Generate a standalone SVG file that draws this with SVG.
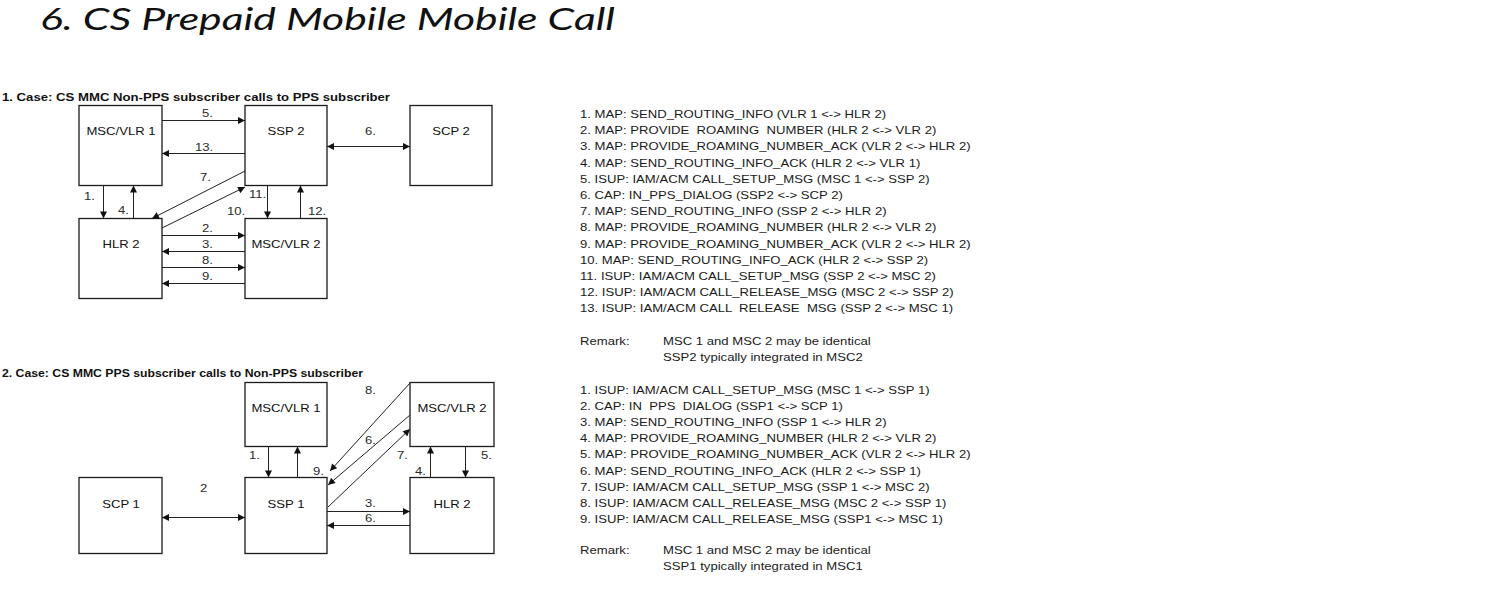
<svg xmlns="http://www.w3.org/2000/svg" width="1512" height="605" viewBox="0 0 1512 605">
  <style>
    .title { font-family: "Lato", "Open Sans", sans-serif; font-style: italic; font-weight: 400; font-size: 30px; fill: #111; }
    .head { font-family: "Liberation Sans", Arial, sans-serif; font-weight: bold; font-size: 11.5px; fill: #111; }
    .box { fill: #fff; stroke: #1a1a1a; stroke-width: 1.3; }
    .blabel { font-family: "Liberation Sans", Arial, sans-serif; font-size: 10.5px; fill: #111; text-anchor: middle; }
    .num { font-family: "Liberation Sans", Arial, sans-serif; font-size: 10.5px; fill: #2a2a2a; }
    .msg { font-family: "Liberation Sans", Arial, sans-serif; font-size: 10.5px; fill: #1a1a1a; }
    .conn { stroke: #222; stroke-width: 1; fill: none; marker-end: url(#ah); }
    .both { marker-start: url(#ah); }
  </style>
  <defs>
    <marker id="ah" viewBox="0 0 10 10" refX="10" refY="5" markerWidth="8" markerHeight="7" markerUnits="userSpaceOnUse" orient="auto-start-reverse">
      <path d="M0,0 L10,5 L0,10 Z" fill="#111"/>
    </marker>
  </defs>

  <rect width="1512" height="605" fill="#fff"/>

  <text class="title" x="40" y="30" textLength="575" lengthAdjust="spacingAndGlyphs">6. CS Prepaid Mobile Mobile Call</text>

  <!-- Case 1: Non-PPS subscriber calls PPS subscriber -->
  <text class="head" x="2" y="101" textLength="388" lengthAdjust="spacingAndGlyphs">1. Case: CS MMC Non-PPS subscriber calls to PPS subscriber</text>

  <g id="c1-msc1"><rect class="box" x="79" y="105.5" width="83" height="80"/><text class="blabel" transform="translate(121,135) scale(1.25,1)">MSC/VLR 1</text></g>
  <g id="c1-ssp2"><rect class="box" x="245" y="105.5" width="82" height="80"/><text class="blabel" transform="translate(286,135) scale(1.25,1)">SSP 2</text></g>
  <g id="c1-scp2"><rect class="box" x="410" y="105.5" width="82" height="80"/><text class="blabel" transform="translate(451,135) scale(1.25,1)">SCP 2</text></g>
  <g id="c1-hlr2"><rect class="box" x="79" y="218.5" width="83" height="80"/><text class="blabel" transform="translate(121,248) scale(1.25,1)">HLR 2</text></g>
  <g id="c1-msc2"><rect class="box" x="245" y="218.5" width="82" height="80"/><text class="blabel" transform="translate(286,248) scale(1.25,1)">MSC/VLR 2</text></g>

  <g id="c1-connectors">
    <path class="conn" d="M162,120.5 H245"/>
    <path class="conn" d="M245,153.5 H162"/>
    <path class="conn both" d="M327,146.5 H410"/>
    <path class="conn" d="M103.5,185.5 V218.5"/>
    <path class="conn" d="M133.5,218.5 V185.5"/>
    <path class="conn" d="M245,171 L152,218.5"/>
    <path class="conn" d="M162,228 L245,187"/>
    <path class="conn" d="M267.5,185.5 V218.5"/>
    <path class="conn" d="M300.5,218.5 V185.5"/>
    <path class="conn" d="M162,235.5 H245"/>
    <path class="conn" d="M245,251.5 H162"/>
    <path class="conn" d="M162,267.5 H245"/>
    <path class="conn" d="M245,283.5 H162"/>
  </g>
  <g id="c1-labels">
    <text class="num" transform="translate(202,117) scale(1.25,1)">5.</text>
    <text class="num" transform="translate(195,151) scale(1.25,1)">13.</text>
    <text class="num" transform="translate(365,135) scale(1.25,1)">6.</text>
    <text class="num" transform="translate(200,181) scale(1.25,1)">7.</text>
    <text class="num" transform="translate(249,198) scale(1.25,1)">11.</text>
    <text class="num" transform="translate(227,215) scale(1.25,1)">10.</text>
    <text class="num" transform="translate(308,215) scale(1.25,1)">12.</text>
    <text class="num" transform="translate(84,200) scale(1.25,1)">1.</text>
    <text class="num" transform="translate(118,214) scale(1.25,1)">4.</text>
    <text class="num" transform="translate(202,232) scale(1.25,1)">2.</text>
    <text class="num" transform="translate(202,248) scale(1.25,1)">3.</text>
    <text class="num" transform="translate(202,264) scale(1.25,1)">8.</text>
    <text class="num" transform="translate(202,280) scale(1.25,1)">9.</text>
  </g>

  <g id="c1-messages" class="msg">
    <text transform="translate(580,118) scale(1.25,1)">1. MAP: SEND_ROUTING_INFO (VLR 1 &lt;-&gt; HLR 2)</text>
    <text transform="translate(580,134.2) scale(1.25,1)">2. MAP: PROVIDE &#160;ROAMING &#160;NUMBER (HLR 2 &lt;-&gt; VLR 2)</text>
    <text transform="translate(580,150.4) scale(1.25,1)">3. MAP: PROVIDE_ROAMING_NUMBER_ACK (VLR 2 &lt;-&gt; HLR 2)</text>
    <text transform="translate(580,166.6) scale(1.25,1)">4. MAP: SEND_ROUTING_INFO_ACK (HLR 2 &lt;-&gt; VLR 1)</text>
    <text transform="translate(580,182.8) scale(1.25,1)">5. ISUP: IAM/ACM CALL_SETUP_MSG (MSC 1 &lt;-&gt; SSP 2)</text>
    <text transform="translate(580,199) scale(1.25,1)">6. CAP: IN_PPS_DIALOG (SSP2 &lt;-&gt; SCP 2)</text>
    <text transform="translate(580,215.2) scale(1.25,1)">7. MAP: SEND_ROUTING_INFO (SSP 2 &lt;-&gt; HLR 2)</text>
    <text transform="translate(580,231.4) scale(1.25,1)">8. MAP: PROVIDE_ROAMING_NUMBER (HLR 2 &lt;-&gt; VLR 2)</text>
    <text transform="translate(580,247.6) scale(1.25,1)">9. MAP: PROVIDE_ROAMING_NUMBER_ACK (VLR 2 &lt;-&gt; HLR 2)</text>
    <text transform="translate(580,263.8) scale(1.25,1)">10. MAP: SEND_ROUTING_INFO_ACK (HLR 2 &lt;-&gt; SSP 2)</text>
    <text transform="translate(580,280) scale(1.25,1)">11. ISUP: IAM/ACM CALL_SETUP_MSG (SSP 2 &lt;-&gt; MSC 2)</text>
    <text transform="translate(580,296.2) scale(1.25,1)">12. ISUP: IAM/ACM CALL_RELEASE_MSG (MSC 2 &lt;-&gt; SSP 2)</text>
    <text transform="translate(580,312.4) scale(1.25,1)">13. ISUP: IAM/ACM CALL &#160;RELEASE &#160;MSG (SSP 2 &lt;-&gt; MSC 1)</text>
    <text transform="translate(580,345) scale(1.25,1)">Remark:</text>
    <text transform="translate(663,345) scale(1.25,1)">MSC 1 and MSC 2 may be identical</text>
    <text transform="translate(663,361) scale(1.25,1)">SSP2 typically integrated in MSC2</text>
  </g>

  <!-- Case 2: PPS subscriber calls Non-PPS subscriber -->
  <text class="head" x="2" y="377" textLength="361" lengthAdjust="spacingAndGlyphs">2. Case: CS MMC PPS subscriber calls to Non-PPS subscriber</text>

  <g id="c2-msc1"><rect class="box" x="245" y="382.5" width="82" height="64"/><text class="blabel" transform="translate(286,412) scale(1.25,1)">MSC/VLR 1</text></g>
  <g id="c2-msc2"><rect class="box" x="410" y="382.5" width="84" height="64"/><text class="blabel" transform="translate(452,412) scale(1.25,1)">MSC/VLR 2</text></g>
  <g id="c2-scp1"><rect class="box" x="79" y="477.5" width="83" height="76"/><text class="blabel" transform="translate(121,508) scale(1.25,1)">SCP 1</text></g>
  <g id="c2-ssp1"><rect class="box" x="245" y="477.5" width="82" height="76"/><text class="blabel" transform="translate(286,508) scale(1.25,1)">SSP 1</text></g>
  <g id="c2-hlr2"><rect class="box" x="410" y="477.5" width="84" height="76"/><text class="blabel" transform="translate(452,508) scale(1.25,1)">HLR 2</text></g>

  <g id="c2-connectors">
    <path class="conn both" d="M162,517.5 H245"/>
    <path class="conn" d="M268.5,446.5 V477.5"/>
    <path class="conn" d="M297.5,477.5 V446.5"/>
    <path class="conn" d="M410,383 L330,471"/>
    <path class="conn" d="M410,415 L328,485"/>
    <path class="conn" d="M328,507 L410,429"/>
    <path class="conn" d="M430.5,477.5 V446.5"/>
    <path class="conn" d="M465.5,446.5 V477.5"/>
    <path class="conn" d="M327,511.5 H410"/>
    <path class="conn" d="M410,525.5 H327"/>
  </g>
  <g id="c2-labels">
    <text class="num" transform="translate(200,492) scale(1.25,1)">2</text>
    <text class="num" transform="translate(249,459) scale(1.25,1)">1.</text>
    <text class="num" transform="translate(313,475) scale(1.25,1)">9.</text>
    <text class="num" transform="translate(365,394) scale(1.25,1)">8.</text>
    <text class="num" transform="translate(365,444) scale(1.25,1)">6.</text>
    <text class="num" transform="translate(397,459) scale(1.25,1)">7.</text>
    <text class="num" transform="translate(415,475) scale(1.25,1)">4.</text>
    <text class="num" transform="translate(481,459) scale(1.25,1)">5.</text>
    <text class="num" transform="translate(365,507) scale(1.25,1)">3.</text>
    <text class="num" transform="translate(365,522) scale(1.25,1)">6.</text>
  </g>

  <g id="c2-messages" class="msg">
    <text transform="translate(580,394) scale(1.25,1)">1. ISUP: IAM/ACM CALL_SETUP_MSG (MSC 1 &lt;-&gt; SSP 1)</text>
    <text transform="translate(580,410.1) scale(1.25,1)">2. CAP: IN &#160;PPS &#160;DIALOG (SSP1 &lt;-&gt; SCP 1)</text>
    <text transform="translate(580,426.2) scale(1.25,1)">3. MAP: SEND_ROUTING_INFO (SSP 1 &lt;-&gt; HLR 2)</text>
    <text transform="translate(580,442.3) scale(1.25,1)">4. MAP: PROVIDE_ROAMING_NUMBER (HLR 2 &lt;-&gt; VLR 2)</text>
    <text transform="translate(580,458.4) scale(1.25,1)">5. MAP: PROVIDE_ROAMING_NUMBER_ACK (VLR 2 &lt;-&gt; HLR 2)</text>
    <text transform="translate(580,474.5) scale(1.25,1)">6. MAP: SEND_ROUTING_INFO_ACK (HLR 2 &lt;-&gt; SSP 1)</text>
    <text transform="translate(580,490.6) scale(1.25,1)">7. ISUP: IAM/ACM CALL_SETUP_MSG (SSP 1 &lt;-&gt; MSC 2)</text>
    <text transform="translate(580,506.7) scale(1.25,1)">8. ISUP: IAM/ACM CALL_RELEASE_MSG (MSC 2 &lt;-&gt; SSP 1)</text>
    <text transform="translate(580,522.8) scale(1.25,1)">9. ISUP: IAM/ACM CALL_RELEASE_MSG (SSP1 &lt;-&gt; MSC 1)</text>
    <text transform="translate(580,554) scale(1.25,1)">Remark:</text>
    <text transform="translate(663,554) scale(1.25,1)">MSC 1 and MSC 2 may be identical</text>
    <text transform="translate(663,570) scale(1.25,1)">SSP1 typically integrated in MSC1</text>
  </g>
</svg>
